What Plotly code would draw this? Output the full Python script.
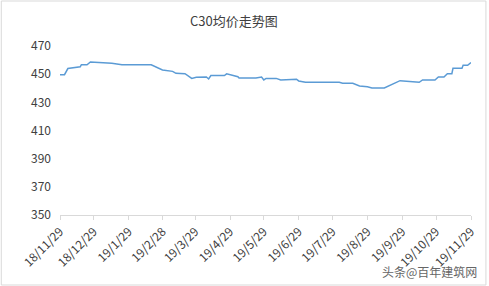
import plotly.graph_objects as go

dates = ["2018-11-29","2018-12-03","2018-12-06","2018-12-17","2018-12-18","2018-12-23",
         "2018-12-26","2019-01-02","2019-01-14","2019-01-23","2019-02-18","2019-02-28",
         "2019-03-09","2019-03-12","2019-03-20","2019-03-26","2019-03-30","2019-04-08",
         "2019-04-10","2019-04-12","2019-04-24","2019-04-26","2019-05-06","2019-05-07",
         "2019-05-22","2019-05-27","2019-05-29","2019-05-31","2019-06-09","2019-06-13",
         "2019-06-24","2019-06-27","2019-06-29","2019-07-05","2019-08-04","2019-08-07",
         "2019-08-16","2019-08-22","2019-08-29","2019-09-02","2019-09-13","2019-09-27",
         "2019-10-14","2019-10-17","2019-10-28","2019-10-31","2019-11-05","2019-11-08",
         "2019-11-12","2019-11-13","2019-11-21","2019-11-22","2019-11-26","2019-11-29"]
prices = [449.6,449.6,454.0,455.3,456.7,456.7,
          458.7,458.5,457.7,456.7,456.7,453.0,
          452.0,450.6,450.3,447.0,447.8,448.0,
          446.6,449.0,449.0,450.2,448.2,447.3,
          447.3,448.0,445.9,447.0,447.0,445.9,
          445.9,446.4,445.2,444.2,444.2,443.5,
          443.5,441.6,441.1,440.2,440.2,445.4,
          444.2,445.9,445.9,448.0,448.0,450.3,
          450.3,454.2,454.2,456.3,456.3,458.2]

tick_dates = ["2018-11-29","2018-12-29","2019-01-29","2019-02-28","2019-03-29","2019-04-29",
              "2019-05-29","2019-06-29","2019-07-29","2019-08-29","2019-09-29","2019-10-29",
              "2019-11-29"]
tick_labels = ["18/11/29","18/12/29","19/1/29","19/2/28","19/3/29","19/4/29","19/5/29",
               "19/6/29","19/7/29","19/8/29","19/9/29","19/10/29","19/11/29"]
y_ticks = [350, 370, 390, 410, 430, 450, 470]

title = "C30均价走势图"
watermark = "头条@百年建筑网"

FONT = "Noto Sans CJK SC, Microsoft YaHei, sans-serif"
W, H = 489, 286
L, R, T, B = 60, 16, 46, 71
pw, ph = W - L - R, H - T - B

fig = go.Figure()
fig.add_trace(go.Scatter(x=dates, y=prices, mode="lines",
                         line=dict(color="#5B9BD5", width=1.5), hoverinfo="skip"))

fig.update_layout(
    width=W, height=H,
    margin=dict(l=L, r=R, t=T, b=B),
    paper_bgcolor="white", plot_bgcolor="white",
    showlegend=False,
    font=dict(family=FONT, size=12, color="#404040"),
    xaxis=dict(type="date", range=["2018-11-29", "2019-11-29"],
               tickmode="array", tickvals=tick_dates, ticktext=tick_labels,
               tickangle=-45, showgrid=False, zeroline=False,
               showline=True, linecolor="#D9D9D9", linewidth=1,
               ticks="outside", ticklen=4, tickcolor="#D9D9D9",
               tickfont=dict(family=FONT, size=12, color="#404040")),
    yaxis=dict(range=[350, 470], tickmode="array", tickvals=y_ticks,
               showgrid=False, zeroline=False, showline=False,
               ticks="", ticklabelstandoff=8,
               tickfont=dict(family=FONT, size=12, color="#404040")),
)

fig.add_annotation(text=title, xref="paper", yref="paper",
                   x=(235 - L) / pw, y=(H - B - 20) / ph,
                   showarrow=False, xanchor="center", yanchor="middle",
                   font=dict(family=FONT, size=13, color="#404040"))
fig.add_annotation(text=watermark, xref="paper", yref="paper",
                   x=(481 - L) / pw, y=(H - B - 271) / ph,
                   showarrow=False, xanchor="right", yanchor="middle",
                   font=dict(family=FONT, size=12, color="#666666"))
fig.add_shape(type="rect", xref="paper", yref="paper",
              x0=(1 - L) / pw, x1=(488 - L) / pw,
              y0=(H - B - 285) / ph, y1=(H - B - 1) / ph,
              line=dict(color="#D9D9D9", width=1), layer="below")

fig.write_html("out.html")
